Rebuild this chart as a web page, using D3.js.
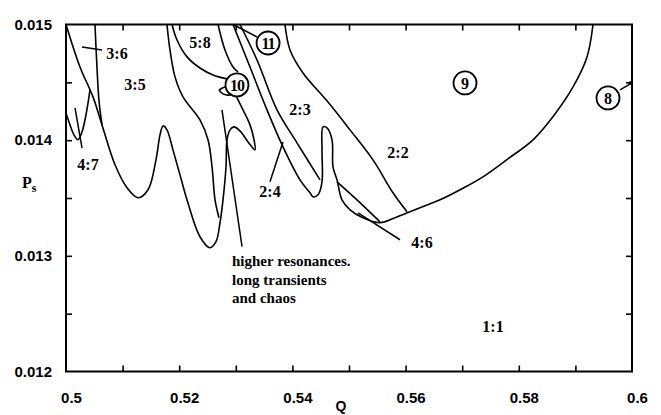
<!DOCTYPE html>
<html><head><meta charset="utf-8">
<script src="https://cdn.jsdelivr.net/npm/d3@7"></script>
<style>body{margin:0;background:#fff}</style>
</head><body><svg id="c" width="661" height="415"></svg>
<script>
// ---- data (Q, Ps) ----
const xTicks = [0.5, 0.52, 0.54, 0.56, 0.58, 0.6];
const xTickLabels = ["0.5", "0.52", "0.54", "0.56", "0.58", "0.6"];
const xMinorTicks = [0.51, 0.52, 0.53, 0.54, 0.55, 0.56, 0.57, 0.58, 0.59];
const yTicks = [0.012, 0.013, 0.014, 0.015];
const yTickLabels = ["0.012", "0.013", "0.014", "0.015"];
const yMinorTicks = [0.0125, 0.013, 0.0135, 0.014, 0.0145];

const bound35 = [[0.5,0.015],[0.50247,0.014633],[0.50477,0.014374],[0.50636,0.014132],[0.50866,0.013787],[0.51078,0.013588],[0.51272,0.013502],[0.51449,0.013571],[0.5159,0.01383],[0.51661,0.014046],[0.51714,0.014123],[0.51784,0.014089],[0.5189,0.013916],[0.52014,0.0137],[0.52138,0.013484],[0.52367,0.013165],[0.52544,0.01307],[0.5265,0.013122],[0.52721,0.013286],[0.52774,0.013484],[0.52827,0.01377],[0.52845,0.014003],[0.52898,0.014089],[0.52968,0.014115],[0.53074,0.01408],[0.53216,0.013985],[0.53339,0.013916],[0.53322,0.014003],[0.53251,0.014132],[0.53127,0.014262],[0.53004,0.014383]];
const line36 = [[0.50512,0.015],[0.50547,0.014633],[0.50583,0.01434],[0.50636,0.014132]];
const tongue47 = [[0.5,0.014236],[0.50071,0.014132],[0.50141,0.014046],[0.50212,0.014003],[0.50283,0.014072],[0.50353,0.014218],[0.50424,0.014434]];
const curveA = [[0.51784,0.015],[0.51837,0.01478],[0.51926,0.014547],[0.52067,0.014374],[0.52367,0.014175],[0.52509,0.014003],[0.5258,0.01377],[0.52633,0.013484],[0.52703,0.013329]];
const bound58 = [[0.51873,0.015],[0.51961,0.014866],[0.52138,0.01472],[0.52367,0.014624],[0.52597,0.014564],[0.52845,0.01453]];
const curveB = [[0.52686,0.015],[0.52809,0.01478],[0.52951,0.014633],[0.53039,0.01459]];
const loop10 = [[0.52703,0.014434],[0.52809,0.01446],[0.52933,0.014452],[0.53004,0.014417],[0.52898,0.014391],[0.52774,0.0144],[0.52703,0.014434]];
const bound22 = [[0.52951,0.015],[0.53251,0.014633],[0.53551,0.014262],[0.53834,0.013942],[0.54134,0.013657],[0.54311,0.013545],[0.54364,0.01351],[0.54452,0.013528],[0.54523,0.01364],[0.54523,0.013916],[0.54541,0.014115],[0.54611,0.014106],[0.547,0.014003],[0.54717,0.01377],[0.54788,0.013657],[0.54876,0.013484],[0.55018,0.013398],[0.55247,0.013329],[0.55548,0.013286],[0.55813,0.013329],[0.56078,0.013381],[0.56343,0.013433],[0.56608,0.013484],[0.56996,0.01358],[0.57367,0.013683],[0.57809,0.013839],[0.58251,0.014003],[0.5864,0.014227],[0.58958,0.01446],[0.59205,0.01472],[0.59311,0.015]];
const curveC = [[0.53074,0.015],[0.53375,0.014693],[0.53728,0.014262],[0.54081,0.013977],[0.54488,0.013657]];
const bound23 = [[0.53869,0.015],[0.53958,0.01478],[0.54187,0.014581],[0.54611,0.01434],[0.55018,0.014089],[0.55424,0.01383],[0.55777,0.013545],[0.56025,0.013381]];
const lens46 = [[0.54788,0.01364],[0.55141,0.013484],[0.55548,0.013294]];

const regionLabels = [
  {t:"3:6", q:0.50901, p:0.014754},
  {t:"3:5", q:0.51219, p:0.014478},
  {t:"5:8", q:0.52367, p:0.014849},
  {t:"4:7", q:0.50389, p:0.013787},
  {t:"2:3", q:0.54134, p:0.014262},
  {t:"2:4", q:0.53604, p:0.013553},
  {t:"2:2", q:0.55866, p:0.01389},
  {t:"4:6", q:0.5629, p:0.013113},
  {t:"1:1", q:0.57544, p:0.012388}
];
const circled = [
  {t:"9", q:0.5705, p:0.014495},
  {t:"8", q:0.59576, p:0.014365},
  {t:"10", q:0.53021, p:0.014478},
  {t:"11", q:0.5357, p:0.01484}
];
const leaders = [
  [[0.50283,0.014806],[0.50636,0.01478]],
  [[0.50283,0.013934],[0.50159,0.014279]],
  [[0.5311,0.013079],[0.52756,0.014262]],
  [[0.53604,0.01364],[0.53834,0.013985]],
  [[0.55901,0.013139],[0.55159,0.013372]],
  [[0.53375,0.014892],[0.52951,0.015]],
  [[0.59788,0.014435],[0.6,0.014495]]
];
const noteLines = ["higher resonances.", "long transients", "and chaos"];

// ---- drawing ----
const svg = d3.select("#c");
const x = d3.scaleLinear().domain([0.5, 0.6]).range([66, 632]);
const y = d3.scaleLinear().domain([0.012, 0.015]).range([371.5, 24.5]);
const serif = "'Liberation Serif','Times New Roman',serif";
const sans = "'Liberation Sans',Arial,sans-serif";

const line = d3.line().x(d => x(d[0])).y(d => y(d[1])).curve(d3.curveCatmullRom.alpha(0.5));
const straight = d3.line().x(d => x(d[0])).y(d => y(d[1]));

const g = svg.append("g");
[bound35, line36, tongue47, curveA, bound58, curveB, loop10, bound22, curveC, bound23, lens46].forEach(c => {
  g.append("path").attr("d", line(c)).attr("fill", "none").attr("stroke", "#000").attr("stroke-width", 1.6).attr("stroke-linejoin", "round");
});
leaders.forEach(l => {
  g.append("path").attr("d", straight(l)).attr("fill", "none").attr("stroke", "#000").attr("stroke-width", 1.5);
});
g.append("circle").attr("cx", x(0.6) - 1).attr("cy", y(0.014495)).attr("r", 2).attr("fill", "#000");

// axes (inward ticks)
function styleAxis(sel) {
  sel.select(".domain").remove();
  sel.selectAll(".tick line").attr("stroke", "#000").attr("stroke-width", 1.6);
}
svg.append("g").attr("transform", `translate(0,${y(0.012)})`)
  .call(d3.axisBottom(x).tickValues(xMinorTicks).tickSize(-6).tickFormat("")).call(styleAxis);
svg.append("g").attr("transform", `translate(0,${y(0.015)})`)
  .call(d3.axisTop(x).tickValues(xMinorTicks).tickSize(-6).tickFormat("")).call(styleAxis);
svg.append("g").attr("transform", `translate(${x(0.5)},0)`)
  .call(d3.axisLeft(y).tickValues(yMinorTicks).tickSize(-6).tickFormat("")).call(styleAxis);
svg.append("g").attr("transform", `translate(${x(0.6)},0)`)
  .call(d3.axisRight(y).tickValues(yMinorTicks).tickSize(-6).tickFormat("")).call(styleAxis);

// tick labels
const xl = svg.append("g").attr("transform", `translate(0,${y(0.012)})`)
  .call(d3.axisBottom(x).tickValues(xTicks).tickSize(0).tickPadding(21).tickFormat((d, i) => xTickLabels[i]));
xl.select(".domain").remove();
xl.selectAll("text").attr("font-family", sans).attr("font-weight", "bold").attr("font-size", 15).attr("fill", "#000").attr("dx", 5);
const yl = svg.append("g").attr("transform", `translate(${x(0.5)},0)`)
  .call(d3.axisLeft(y).tickValues(yTicks).tickSize(0).tickPadding(14).tickFormat((d, i) => yTickLabels[i]));
yl.select(".domain").remove();
yl.selectAll("text").attr("font-family", sans).attr("font-weight", "bold").attr("font-size", 15).attr("fill", "#000");

// frame
svg.append("rect").attr("x", x(0.5)).attr("y", y(0.015)).attr("width", x(0.6) - x(0.5)).attr("height", y(0.012) - y(0.015))
  .attr("fill", "none").attr("stroke", "#000").attr("stroke-width", 2);

// axis titles
svg.append("text").attr("x", 341).attr("y", 411).attr("text-anchor", "middle")
  .attr("font-family", sans).attr("font-weight", "bold").attr("font-size", 14).text("Q");
const ps = svg.append("text").attr("x", 22).attr("y", 188).attr("font-family", serif).attr("font-weight", "bold").attr("font-size", 16);
ps.append("tspan").text("P");
ps.append("tspan").attr("dy", 4).attr("font-size", 12).text("s");

// region labels
svg.append("g").selectAll("text").data(regionLabels).join("text")
  .attr("x", d => x(d.q)).attr("y", d => y(d.p)).attr("dy", "0.35em").attr("text-anchor", "middle")
  .attr("font-family", serif).attr("font-weight", "bold").attr("font-size", 16).text(d => d.t);

const cg = svg.append("g").selectAll("g").data(circled).join("g")
  .attr("transform", d => `translate(${x(d.q)},${y(d.p)})`);
cg.append("circle").attr("r", 11.5).attr("fill", "#fff").attr("stroke", "#000").attr("stroke-width", 1.8);
cg.append("text").attr("text-anchor", "middle").attr("dy", "0.36em")
  .attr("font-family", serif).attr("font-weight", "bold").attr("font-size", 16)
  .attr("letter-spacing", d => d.t.length > 1 ? -1 : 0).text(d => d.t);

// note text
svg.append("g").selectAll("text").data(noteLines).join("text")
  .attr("x", 232).attr("y", (d, i) => 266 + i * 18.5)
  .attr("font-family", serif).attr("font-weight", "bold").attr("font-size", 15).text(d => d);
</script></body></html>
